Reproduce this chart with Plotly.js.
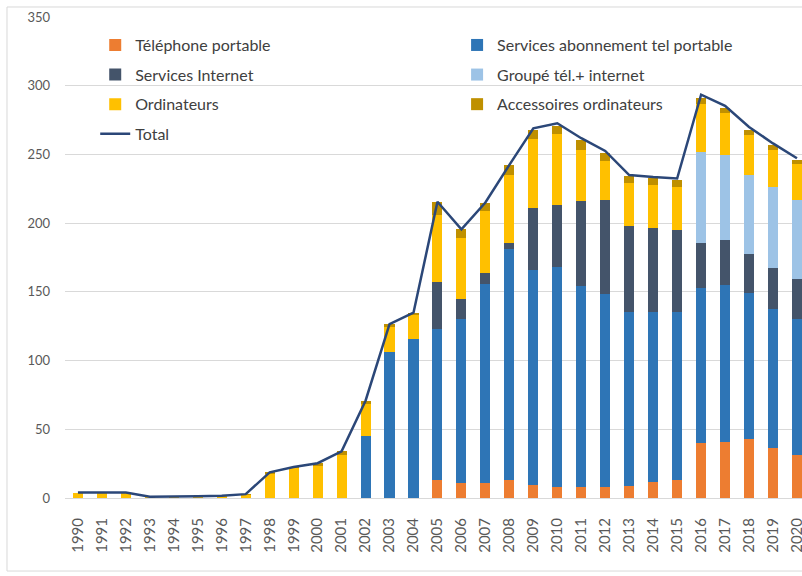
<!DOCTYPE html>
<html>
<head>
<meta charset="utf-8">
<script src="https://cdn.plot.ly/plotly-3.0.1.min.js"></script>
<style>
html,body{margin:0;padding:0;background:#fff;}
#chart{width:802px;height:576px;}
</style>
</head>
<body>
<div id="chart"></div>
<script>
const years = ['1990','1991','1992','1993','1994','1995','1996','1997','1998','1999','2000','2001','2002','2003','2004','2005','2006','2007','2008','2009','2010','2011','2012','2013','2014','2015','2016','2017','2018','2019','2020'];

const telephonePortable = [0,0,0,0,0,0,0,0,0,0,0,0,0,0,0,13,11.2,11,13,9.5,8.2,7.8,8.2,8.7,11.9,13.1,39.8,40.5,42.7,36.1,31.3];
const servicesAbonnement = [0,0,0,0,0,0,0,0,0,0,0,0,45,106.5,115.5,110,118.8,145,168,156.5,159.8,146.7,140.5,126.9,123.7,122.5,112.8,114.5,106.3,101.2,98.7];
const servicesInternet = [0,0,0,0,0,0,0,0,0,0,0,0,0,0,0,34.4,14.6,7.5,4.4,44.8,45.2,61.9,67.8,62.4,60.7,59.4,33.2,32.8,28.3,29.9,29.2];
const groupeTelInternet = [0,0,0,0,0,0,0,0,0,0,0,0,0,0,0,0,0,0,0,0,0,0,0,0,0,0,66.3,61.8,57.8,58.9,57.7];
const ordinateurs = [4,4,4,0.8,0.8,1,1.2,2.3,17.5,21.5,23.5,31.5,23.5,18.2,18,48.6,44.4,45.4,49.6,50.2,51.5,36.9,28.8,31,31.5,31,34.7,30.4,29.1,27.2,26.2];
const accessoires = [0,0,0,0,0,0,0,0.4,1.2,1,1.8,2.5,2.3,1.8,1.3,9.6,6.5,5.6,7.4,6.8,6.3,7.3,6,5,5,5.5,4.5,4,3.8,3.6,3.2];
const total = [4,4,4,1,1,1.2,1.6,2.8,18.7,22.5,25.3,34,70.8,126.5,134.8,215.6,195.5,215,242.4,269,272.7,261.8,252.5,235,233.5,232.5,293.5,285.3,270,258,247.2];

const names = ['Téléphone portable','Services abonnement tel portable','Services Internet','Groupé tél.+ internet','Ordinateurs','Accessoires ordinateurs','Total'];
const colors = ['#ED7D31','#2E75B6','#44546A','#9DC3E6','#FFC000','#BF9000','#2B4778'];
const barSeries = [telephonePortable, servicesAbonnement, servicesInternet, groupeTelInternet, ordinateurs, accessoires];
const legendFor = ['legend','legend2','legend','legend2','legend','legend2'];

const data = barSeries.map((vals, i) => ({
  type: 'bar', x: years, y: vals, name: names[i],
  marker: {color: colors[i], line: {width: 0}},
  legend: legendFor[i], legendgroup: 'g' + i,
  hoverinfo: 'x+y+name'
}));
data.push({
  type: 'scatter', mode: 'lines', x: years, y: total, name: names[6],
  line: {color: colors[6], width: 2.5},
  legend: 'legend', legendgroup: 'g6'
});

const F = 'Lato, "Open Sans", "Liberation Sans", sans-serif';
const legendCommon = {
  orientation: 'v', traceorder: 'grouped', tracegroupgap: 5.8,
  bgcolor: 'rgba(0,0,0,0)', borderwidth: 0,
  font: {family: F, size: 16, color: '#404040'},
  xanchor: 'left', yanchor: 'top', y: 0.977
};

const layout = {
  width: 802, height: 576,
  margin: {l: 65, r: 0, t: 17, b: 78},
  paper_bgcolor: '#ffffff', plot_bgcolor: '#ffffff',
  barmode: 'stack', bargap: 0.58,
  font: {family: F, color: '#595959'},
  xaxis: {
    type: 'category', range: [-0.54, 30.21],
    tickangle: -90, tickfont: {family: F, size: 15, color: '#595959'},
    showgrid: false, showline: true, linecolor: '#D9D9D9', linewidth: 1,
    ticks: '', ticklabelstandoff: 13, fixedrange: true
  },
  yaxis: {
    range: [0, 350], dtick: 50, tick0: 0,
    tickfont: {family: F, size: 13, color: '#595959'},
    showgrid: true, gridcolor: '#D9D9D9', gridwidth: 1,
    zeroline: false, showline: false, ticks: '', ticklabelstandoff: 14,
    fixedrange: true
  },
  legend: Object.assign({}, legendCommon, {x: 0.041}),
  legend2: Object.assign({}, legendCommon, {x: 0.532}),
  shapes: [{
    type: 'rect', xref: 'paper', yref: 'paper',
    x0: -0.0787, x1: 1.2, y0: -0.1518, y1: 1.0208,
    line: {color: '#D9D9D9', width: 1}, fillcolor: 'rgba(0,0,0,0)', layer: 'below'
  }],
  showlegend: true
};

Plotly.newPlot('chart', data, layout, {displayModeBar: false, staticPlot: true});
</script>
</body>
</html>
